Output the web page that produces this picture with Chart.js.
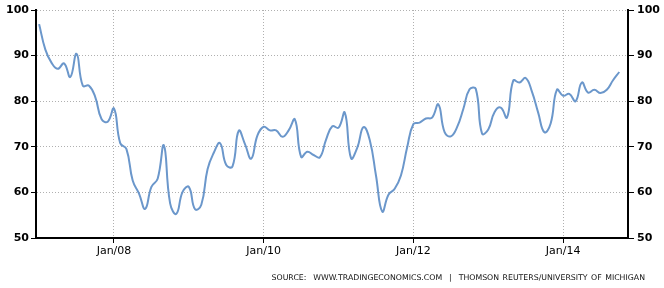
<!DOCTYPE html>
<html lang="en">
  <head>
    <meta charset="UTF-8" />
    <title>Consumer Sentiment</title>
    <script src="https://cdn.jsdelivr.net/npm/chart.js"></script>
    <style>
      body {
        margin: 0;
        background: #fff;
      }
      .wrap {
        position: relative;
        width: 664px;
        height: 288px;
      }
      .source {
        position: absolute;
        right: 19px;
        top: 273px;
        font-family: "DejaVu Sans", sans-serif;
        font-size: 7.8px;
        word-spacing: 1px;
        color: #111;
        white-space: pre;
      }
    </style>
  </head>
  <body>
    <div class="wrap">
      <canvas id="chart"></canvas>
      <div class="source">SOURCE:  WWW.TRADINGECONOMICS.COM  |  THOMSON REUTERS/UNIVERSITY OF MICHIGAN</div>
    </div>

    <script>
      // monthly values, Jan 2007 .. Oct 2014
      const sentiment = [
        96.9, 91.3, 88.4, 87.1, 88.3, 85.3, 90.4, 83.4, 83.4, 80.9, 76.1, 75.5,
        78.4, 70.8, 69.5, 62.6, 59.8, 56.4, 61.2, 63.0, 70.3, 57.6, 55.3, 60.1,
        61.2, 56.3, 57.3, 65.1, 68.7, 70.8, 66.0, 65.7, 73.5, 70.6, 67.4, 72.5,
        74.4, 73.6, 73.6, 72.2, 73.6, 76.0, 67.8, 68.9, 68.2, 67.7, 71.6, 74.5,
        74.2, 77.5, 67.5, 69.8, 74.3, 71.5, 63.7, 55.8, 59.5, 60.8, 63.7, 69.9,
        75.0, 75.3, 76.2, 76.4, 79.3, 73.2, 72.3, 74.3, 78.3, 82.6, 82.7, 72.9,
        73.8, 77.6, 78.6, 76.4, 84.5, 84.1, 85.1, 82.1, 77.5, 73.2, 75.1, 82.5,
        81.2, 81.6, 80.0, 84.1, 81.9, 82.5, 81.8, 82.5, 84.6, 86.4,
      ];
      const tickMonths = [12, 36, 60, 84];
      const tickLabels = ["Jan/08", "Jan/10", "Jan/12", "Jan/14"];
      const yTicks = [50, 60, 70, 80, 90, 100];

      const points = sentiment.map((v, i) => ({ x: i, y: v }));

      const gridGrey = "#b0b0b0";

      new Chart(document.getElementById("chart"), {
        type: "line",
        data: {
          datasets: [
            {
              data: points,
              borderColor: "#6b97cb",
              borderWidth: 2,
              pointRadius: 0,
              tension: 0.45,
              fill: false,
            },
          ],
        },
        options: {
          responsive: true,
          maintainAspectRatio: false,
          animation: false,
          layout: { padding: { top: 10, left: 0, right: 0, bottom: 0 } },
          plugins: {
            legend: { display: false },
            tooltip: { enabled: false },
          },
          scales: {
            x: {
              type: "linear",
              min: -0.5,
              max: 94.4,
              afterBuildTicks: (scale) => {
                scale.ticks = tickMonths.map((v) => ({ value: v }));
              },
              afterFit: (scale) => {
                scale.height = 50;
              },
              ticks: {
                autoSkip: false,
                maxRotation: 0,
                padding: 2,
                color: "#000",
                font: { family: "DejaVu Sans", size: 11 },
                callback: (v) => tickLabels[tickMonths.indexOf(v)],
              },
              grid: {
                color: gridGrey,
                tickColor: "#000",
                tickLength: 5,
                tickWidth: 1,
              },
              border: { color: "#000", width: 2, dash: [1, 2] },
            },
            y: {
              position: "left",
              min: 50,
              max: 100,
              afterBuildTicks: (scale) => {
                scale.ticks = yTicks.map((v) => ({ value: v }));
              },
              afterFit: (scale) => {
                scale.width = 36;
              },
              ticks: {
                padding: 2,
                color: "#000",
                font: { family: "DejaVu Sans", size: 11, weight: "bold" },
              },
              grid: {
                color: gridGrey,
                tickColor: "#000",
                tickLength: 5,
                tickWidth: 1,
              },
              border: { color: "#000", width: 2, dash: [1, 2] },
            },
            y2: {
              position: "right",
              min: 50,
              max: 100,
              afterBuildTicks: (scale) => {
                scale.ticks = yTicks.map((v) => ({ value: v }));
              },
              afterFit: (scale) => {
                scale.width = 36;
              },
              ticks: {
                padding: 3,
                color: "#000",
                font: { family: "DejaVu Sans", size: 11, weight: "bold" },
              },
              grid: {
                drawOnChartArea: false,
                tickColor: "#000",
                tickLength: 6,
                tickWidth: 1,
              },
              border: { color: "#000", width: 2 },
            },
          },
        },
      });
    </script>
  </body>
</html>
